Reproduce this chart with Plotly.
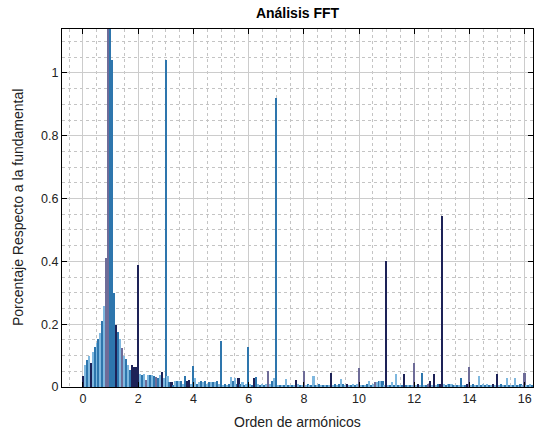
import numpy as np
import plotly.graph_objects as go

# Bin step: 1/14 of the fundamental (harmonic order)
BINS_PER_HARMONIC = 14

# Amplitudes (relative to fundamental), one row per harmonic unit (14 bins each)
amp_h0 = [0.035, 0.070, 0.086, 0.100, 0.076, 0.112, 0.128, 0.140, 0.152, 0.171, 0.211, 0.258, 0.410, 1.200]
amp_h1 = [1.200, 1.040, 0.298, 0.197, 0.175, 0.152, 0.123, 0.099, 0.088, 0.070, 0.054, 0.070, 0.063, 0.063]
amp_h2 = [0.390, 0.041, 0.037, 0.041, 0.022, 0.037, 0.037, 0.037, 0.035, 0.033, 0.030, 0.037, 0.049, 0.030]
amp_h3 = [1.040, 0.034, 0.017, 0.017, 0.005, 0.020, 0.020, 0.019, 0.019, 0.010, 0.036, 0.020, 0.022, 0.010]
amp_h4 = [0.067, 0.030, 0.010, 0.015, 0.020, 0.015, 0.020, 0.010, 0.017, 0.017, 0.017, 0.015, 0.020, 0.010]
amp_h5 = [0.147, 0.005, 0.008, 0.005, 0.010, 0.033, 0.020, 0.030, 0.010, 0.028, 0.008, 0.015, 0.005, 0.008]
amp_h6 = [0.128, 0.010, 0.005, 0.030, 0.033, 0.010, 0.005, 0.010, 0.005, 0.010, 0.051, 0.010, 0.020, 0.030]
amp_h7 = [0.920, 0.005, 0.005, 0.005, 0.005, 0.026, 0.005, 0.005, 0.005, 0.005, 0.022, 0.010, 0.005, 0.005]
amp_h8 = [0.050, 0.005, 0.010, 0.005, 0.005, 0.035, 0.005, 0.005, 0.010, 0.005, 0.005, 0.005, 0.005, 0.005]
amp_h9 = [0.045, 0.005, 0.010, 0.005, 0.010, 0.025, 0.010, 0.005, 0.010, 0.005, 0.005, 0.008, 0.005, 0.008]
amp_h10 = [0.060, 0.005, 0.005, 0.005, 0.008, 0.020, 0.005, 0.008, 0.015, 0.015, 0.020, 0.018, 0.020, 0.005]
amp_h11 = [0.400, 0.005, 0.005, 0.015, 0.005, 0.043, 0.005, 0.005, 0.005, 0.043, 0.005, 0.005, 0.005, 0.005]
amp_h12 = [0.077, 0.005, 0.008, 0.005, 0.046, 0.005, 0.005, 0.010, 0.020, 0.005, 0.043, 0.005, 0.010, 0.010]
amp_h13 = [0.545, 0.010, 0.005, 0.010, 0.008, 0.010, 0.005, 0.005, 0.005, 0.005, 0.030, 0.005, 0.005, 0.008]
amp_h14 = [0.065, 0.005, 0.008, 0.005, 0.005, 0.035, 0.005, 0.010, 0.005, 0.008, 0.005, 0.005, 0.010, 0.005]
amp_h15 = [0.043, 0.005, 0.010, 0.005, 0.005, 0.028, 0.005, 0.005, 0.005, 0.028, 0.005, 0.005, 0.008, 0.005]
amp_h16 = [0.045, 0.005, 0.005, 0.008, 0.005, 0.012, 0.005, 0.005]

amplitudes = (amp_h0 + amp_h1 + amp_h2 + amp_h3 + amp_h4 + amp_h5 + amp_h6 + amp_h7 +
              amp_h8 + amp_h9 + amp_h10 + amp_h11 + amp_h12 + amp_h13 + amp_h14 +
              amp_h15 + amp_h16)
orders = np.arange(len(amplitudes)) / BINS_PER_HARMONIC

x_ticks = [0, 2, 4, 6, 8, 10, 12, 14, 16]
y_ticks = [0, 0.2, 0.4, 0.6, 0.8, 1.0]

title_text = "<b>Análisis FFT</b>"
x_label = "Orden de armónicos"
y_label = "Porcentaje Respecto a la fundamental"

# ---- styling (colours per bin) ----
LIGHT = "#7fb8df"
MED = "#2e76ad"
DARK = "#1d2257"
PURP = "#6e6c98"
dark_bins = {0, 4, 17, 25, 26, 27, 28, 40, 45, 53, 54, 79, 87, 108, 126, 134, 154, 163,
             170, 176, 178, 181, 182, 195, 208, 210}
purple_bins = {12, 13, 20, 32, 37, 94, 112, 140, 148, 168, 175, 196, 224}
spike_bins = {15, 42, 70, 84, 98}
colors = []
for i in range(len(amplitudes)):
    if i in dark_bins:
        colors.append(DARK)
    elif i in purple_bins:
        colors.append(PURP)
    elif i in spike_bins:
        colors.append(MED)
    else:
        colors.append(LIGHT if i % 2 else MED)

fig = go.Figure()
fig.add_trace(go.Bar(x=orders, y=amplitudes, marker=dict(color=colors, line=dict(width=0)),
                     width=0.8 / BINS_PER_HARMONIC))

FONT = "Liberation Sans, Arial"
axis_common = dict(showline=True, linecolor="black", linewidth=1, mirror="ticks",
                   ticks="inside", ticklen=5, tickcolor="black", showgrid=True,
                   gridcolor="#cccccc", gridwidth=1, zeroline=False, automargin=False,
                   tickfont=dict(family=FONT, size=12.5, color="#222"))

W, H = 540, 432
ML, MR, MT, MB = 62, 7, 29, 45

fig.update_layout(
    width=W, height=H,
    margin=dict(l=ML, r=MR, t=MT, b=MB),
    paper_bgcolor="white", plot_bgcolor="white",
    showlegend=False, bargap=0,
    title=dict(text=title_text, x=0.5, xref="paper", y=1 - 13 / H,
               yref="container", yanchor="middle",
               font=dict(family=FONT, size=14, color="black")),
    xaxis=dict(range=[-0.76, 16.3], tickvals=x_ticks, **axis_common,
               minor=dict(dtick=0.5, showgrid=True, gridcolor="#c4c4c4", griddash="dot", ticks="")),
    yaxis=dict(range=[0, 1.14], tickvals=y_ticks, **axis_common,
               minor=dict(dtick=0.05, showgrid=True, gridcolor="#c4c4c4", griddash="dot", ticks="")),
    annotations=[
        dict(text=x_label, xref="paper", yref="paper", x=0.5,
             y=-(422 - (H - MB)) / (H - MT - MB), yanchor="middle", showarrow=False,
             font=dict(family=FONT, size=14, color="#222")),
        dict(text=y_label, xref="paper", yref="paper", x=-(ML - 18) / (W - ML - MR),
             xanchor="center", y=0.5, yanchor="middle", textangle=-90, showarrow=False,
             font=dict(family=FONT, size=14, color="#222")),
    ],
)

fig.write_html("out.html")
